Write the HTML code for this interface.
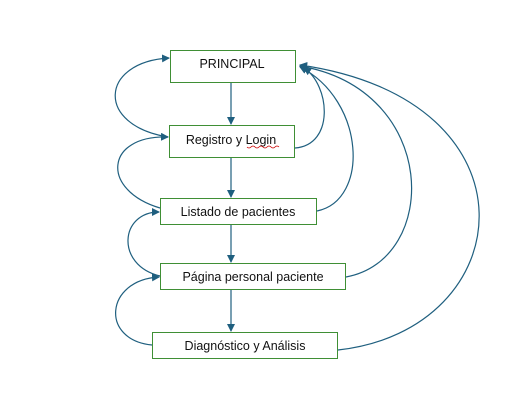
<!DOCTYPE html>
<html><head><meta charset="utf-8"><style>
html,body{margin:0;padding:0;background:#fff;width:527px;height:420px;overflow:hidden}
text{font-family:"Liberation Sans",sans-serif;font-size:12.5px;fill:#111}
</style></head><body>
<svg width="527" height="420" viewBox="0 0 527 420" xmlns="http://www.w3.org/2000/svg">
<defs><marker id="a" markerWidth="8" markerHeight="8" refX="7" refY="4" orient="auto" markerUnits="userSpaceOnUse"><path d="M0,0 L8,4 L0,8 z" fill="#1f5f7f"/></marker></defs>
<g fill="#fff" stroke="#3f8f35" stroke-width="1">
<rect x="170.5" y="50.5" width="125" height="32"/>
<rect x="169.5" y="125.5" width="125" height="32"/>
<rect x="160.5" y="198.5" width="156" height="26"/>
<rect x="160.5" y="263.5" width="185" height="26"/>
<rect x="152.5" y="332.5" width="185" height="26"/>
</g>
<text x="232" y="68" text-anchor="middle">PRINCIPAL</text>
<text x="231" y="144" text-anchor="middle">Registro y Login</text>
<path d="M247,147 q2,2 4,0 t4,0 t4,0 t4,0 t4,0 t4,0 t4,0 t4,0" fill="none" stroke="#c00" stroke-width="0.8"/>
<text x="238" y="216" text-anchor="middle">Listado de pacientes</text>
<text x="253" y="281" text-anchor="middle">Página personal paciente</text>
<text x="245" y="350" text-anchor="middle">Diagnóstico y Análisis</text>
<g fill="none" stroke="#1f5f7f" stroke-width="1.2" marker-end="url(#a)">
<line x1="231" y1="83" x2="231" y2="124"/>
<line x1="231" y1="158" x2="231" y2="197"/>
<line x1="231" y1="225" x2="231" y2="262"/>
<line x1="231" y1="290" x2="231" y2="331"/>
<path d="M168,137 C95,125 100,62 169,58"/>
<path d="M160,208 C100,190 105,135 168,137"/>
<path d="M160,276 C115,265 120,212 159,212"/>
<path d="M152,345 C100,340 105,280 159,277"/>
<path d="M295,148 C335,145 330,85 304,68"/>
<path d="M317,211 C370,200 365,100 300,67"/>
<path d="M346,277 C440,260 440,90 300,66"/>
<path d="M338,350 C520,330 545,100 300,65"/>
</g>
</svg>
</body></html>
